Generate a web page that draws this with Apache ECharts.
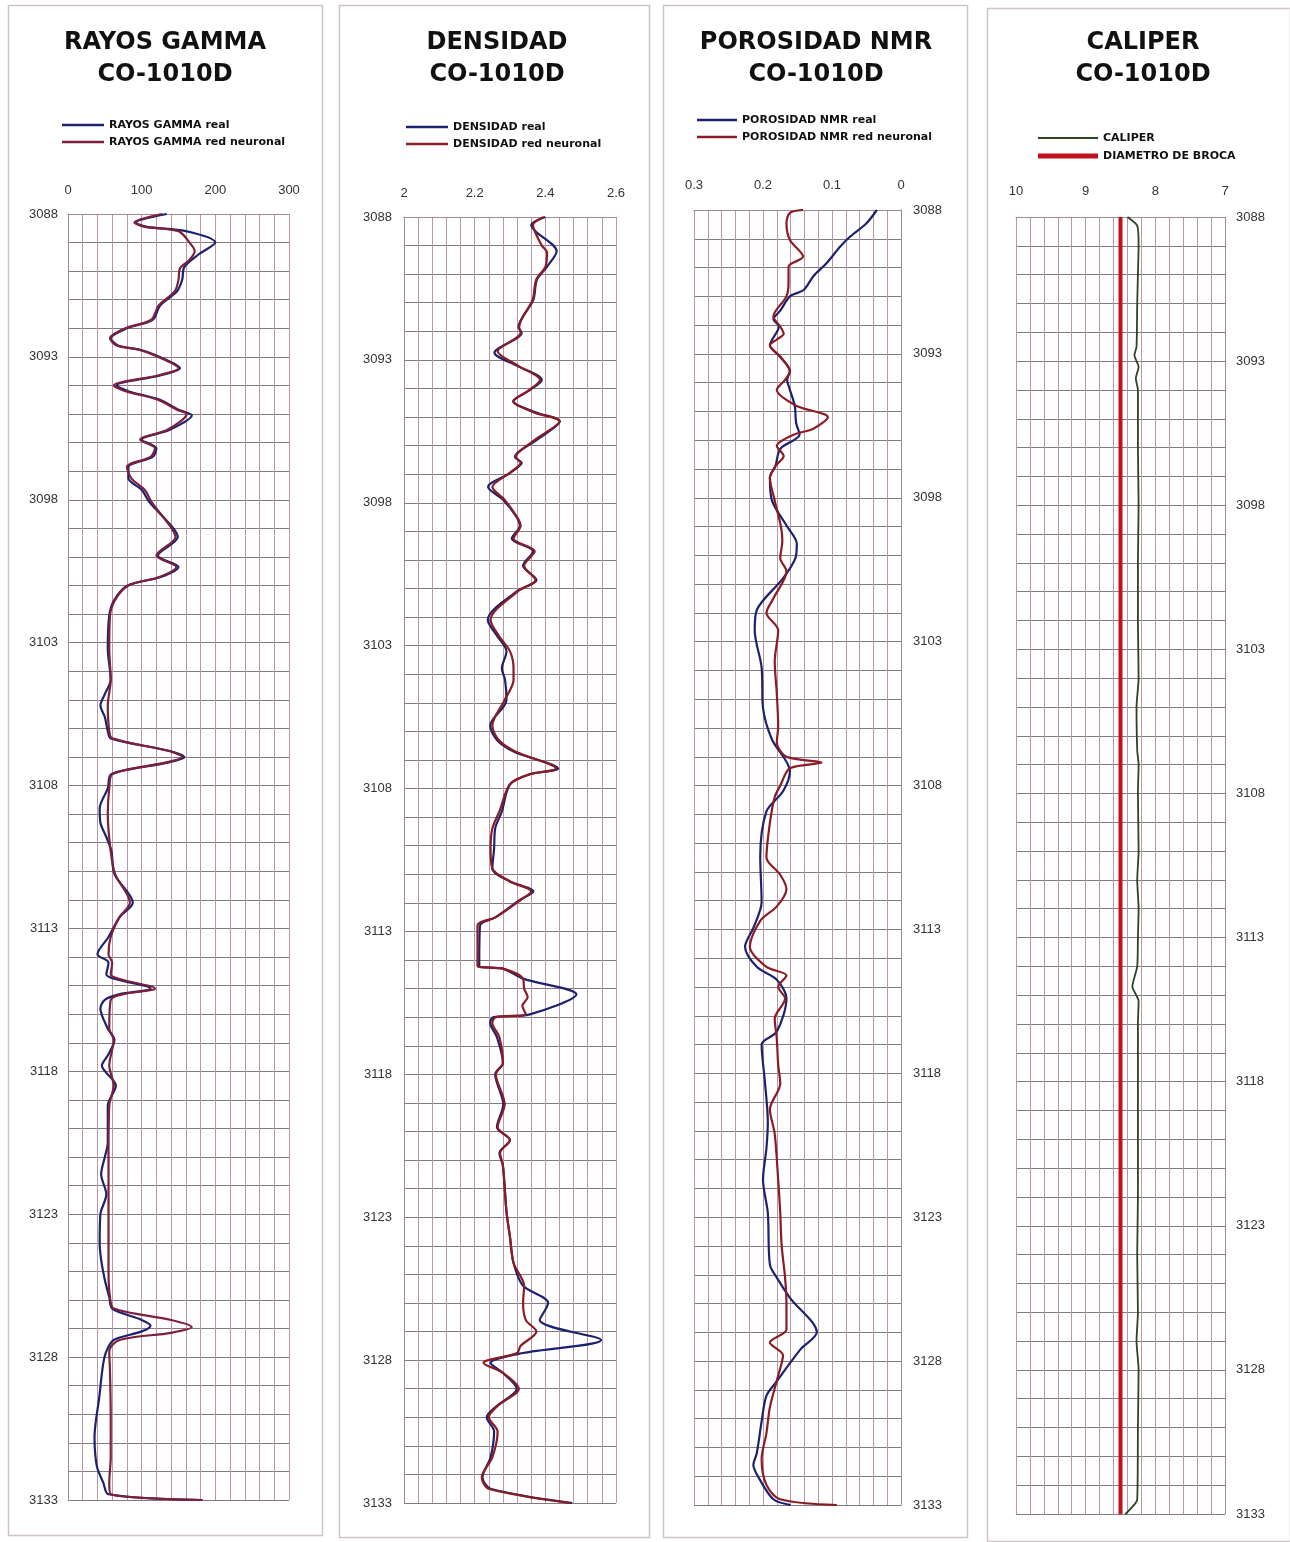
<!DOCTYPE html>
<html><head><meta charset="utf-8">
<script src="https://cdn.jsdelivr.net/npm/echarts@6/dist/echarts.min.js"></script>
<style>html,body{margin:0;padding:0;background:#fff}#c{width:1290px;height:1542px}</style>
</head><body><div id="c"></div>
<script>
// ---- data: [depth, value] pairs ----
const depthTicks = [3088,3093,3098,3103,3108,3113,3118,3123,3128,3133];
const grTicks = [0,100,200,300];
const denTicks = [2,2.2,2.4,2.6];
const porTicks = [0.3,0.2,0.1,0];
const calTicks = [10,9,8,7];

const grReal = [[3088.0,134],[3088.3,92],[3088.45,107],[3088.6,160],[3089.0,200],[3089.4,178],[3089.85,158],[3090.3,155],[3090.7,148],[3091.2,125],[3091.7,115],[3092.0,80],[3092.35,58],[3092.6,68],[3092.75,98],[3092.95,120],[3093.4,152],[3093.65,125],[3094.0,66],[3094.2,82],[3094.5,125],[3094.85,150],[3095.05,168],[3095.55,138],[3095.9,100],[3096.2,120],[3096.5,115],[3096.85,82],[3097.25,82],[3097.65,100],[3098.1,111],[3098.9,140],[3099.3,149],[3099.95,122],[3100.35,150],[3100.7,126],[3101.0,81],[3101.5,63],[3102.05,56],[3103.2,54],[3104.3,58],[3104.8,50],[3105.2,44],[3105.6,50],[3106.1,54],[3106.35,58],[3106.8,140],[3107.0,158],[3107.2,135],[3107.6,59],[3108.1,54],[3108.8,43],[3109.3,44],[3109.8,52],[3110.3,59],[3111.1,63],[3112.1,88],[3112.6,70],[3113.3,55],[3113.9,40],[3114.2,55],[3114.6,52],[3115.1,112],[3115.3,70],[3115.5,50],[3115.8,44],[3116.5,54],[3116.9,63],[3117.4,55],[3117.8,46],[3118.5,65],[3119.2,54],[3120.5,54],[3121.0,50],[3121.6,45],[3122.3,52],[3123.0,44],[3124.0,43],[3124.6,45],[3125.3,50],[3125.9,56],[3126.3,60],[3126.7,100],[3126.9,112],[3127.1,100],[3127.4,62],[3127.8,52],[3128.2,48],[3128.8,45],[3129.5,42],[3130.2,38],[3130.8,36],[3131.4,37],[3131.9,40],[3132.4,48],[3132.8,55],[3133.0,180]];
const grNeural = [[3088.0,128],[3088.3,90],[3088.45,105],[3088.6,150],[3089.0,165],[3089.3,172],[3089.6,165],[3089.9,152],[3090.3,150],[3090.7,145],[3091.2,123],[3091.7,113],[3092.0,78],[3092.35,57],[3092.6,66],[3092.75,96],[3092.95,118],[3093.4,150],[3093.65,122],[3094.0,62],[3094.2,78],[3094.5,122],[3094.85,148],[3095.0,161],[3095.55,135],[3095.9,98],[3096.2,118],[3096.5,112],[3096.85,80],[3097.25,86],[3097.65,104],[3098.1,114],[3098.9,138],[3099.3,146],[3099.95,120],[3100.35,147],[3100.7,124],[3101.0,82],[3101.5,64],[3102.05,57],[3103.2,56],[3104.3,58],[3105.2,54],[3106.1,56],[3106.35,60],[3106.8,138],[3107.0,155],[3107.2,132],[3107.6,60],[3108.1,56],[3109.0,54],[3110.3,58],[3111.1,64],[3112.1,84],[3112.6,70],[3113.3,58],[3113.9,55],[3114.2,60],[3114.6,58],[3115.1,118],[3115.3,75],[3115.5,58],[3116.5,56],[3116.9,62],[3117.8,56],[3118.5,62],[3119.2,56],[3121.0,55],[3123.0,55],[3125.0,55],[3125.9,57],[3126.3,62],[3126.7,140],[3126.95,168],[3127.15,140],[3127.4,70],[3127.8,56],[3128.5,57],[3130.0,58],[3131.5,58],[3132.4,56],[3132.8,58],[3133.0,183]];

const denReal = [[3088.0,2.40],[3088.28,2.36],[3088.5,2.372],[3089.2,2.432],[3089.75,2.404],[3090.2,2.376],[3090.9,2.366],[3091.85,2.324],[3092.05,2.333],[3092.75,2.256],[3093.2,2.319],[3093.7,2.39],[3094.05,2.357],[3094.45,2.309],[3094.85,2.376],[3095.15,2.441],[3095.8,2.376],[3096.4,2.314],[3096.6,2.333],[3096.95,2.30],[3097.45,2.238],[3097.9,2.281],[3098.5,2.319],[3098.8,2.328],[3099.25,2.305],[3099.7,2.366],[3100.2,2.337],[3100.7,2.375],[3101.1,2.319],[3102.1,2.237],[3102.65,2.263],[3103.2,2.29],[3103.8,2.277],[3104.2,2.286],[3104.9,2.29],[3105.8,2.244],[3106.3,2.263],[3106.7,2.31],[3107.3,2.436],[3107.5,2.356],[3107.85,2.30],[3108.8,2.277],[3109.4,2.258],[3110.1,2.255],[3110.8,2.25],[3111.25,2.30],[3111.6,2.366],[3111.9,2.328],[3112.5,2.26],[3112.8,2.215],[3114.2,2.213],[3114.3,2.28],[3114.65,2.337],[3115.2,2.488],[3115.9,2.356],[3116.0,2.253],[3116.2,2.244],[3116.7,2.263],[3117.6,2.28],[3118.0,2.258],[3119.05,2.281],[3119.85,2.263],[3120.3,2.30],[3120.75,2.27],[3121.2,2.28],[3122.8,2.29],[3123.7,2.30],[3124.6,2.31],[3125.4,2.337],[3126.0,2.408],[3126.6,2.384],[3127.3,2.558],[3127.75,2.337],[3128.1,2.245],[3128.45,2.28],[3129.0,2.319],[3129.6,2.263],[3130.0,2.234],[3130.5,2.255],[3131.4,2.245],[3132.1,2.222],[3132.5,2.245],[3133.0,2.476]];
const denNeural = [[3088.0,2.395],[3088.28,2.365],[3088.5,2.37],[3089.0,2.39],[3089.25,2.405],[3089.75,2.40],[3090.2,2.374],[3090.9,2.364],[3091.85,2.326],[3092.05,2.33],[3092.7,2.265],[3093.2,2.322],[3093.7,2.385],[3094.05,2.355],[3094.45,2.31],[3094.85,2.37],[3095.15,2.44],[3095.8,2.37],[3096.4,2.316],[3096.6,2.33],[3096.95,2.30],[3097.45,2.25],[3097.9,2.285],[3098.5,2.32],[3098.8,2.33],[3099.25,2.31],[3099.7,2.37],[3100.2,2.34],[3100.7,2.372],[3101.1,2.322],[3102.1,2.245],[3102.65,2.268],[3103.2,2.30],[3103.8,2.31],[3104.2,2.31],[3104.9,2.285],[3105.8,2.25],[3106.3,2.268],[3106.7,2.315],[3107.3,2.43],[3107.5,2.356],[3107.85,2.30],[3108.8,2.27],[3109.4,2.25],[3110.1,2.245],[3110.8,2.25],[3111.25,2.30],[3111.6,2.36],[3111.9,2.33],[3112.5,2.26],[3112.8,2.208],[3114.2,2.208],[3114.3,2.28],[3114.65,2.337],[3115.0,2.34],[3115.3,2.35],[3115.6,2.335],[3115.9,2.345],[3116.0,2.26],[3116.2,2.25],[3116.7,2.27],[3117.6,2.28],[3118.0,2.26],[3119.05,2.285],[3119.85,2.265],[3120.3,2.30],[3120.75,2.272],[3121.2,2.28],[3122.8,2.29],[3123.7,2.30],[3124.6,2.31],[3125.4,2.34],[3126.0,2.337],[3126.6,2.345],[3127.0,2.375],[3127.5,2.33],[3127.75,2.32],[3128.1,2.225],[3128.45,2.28],[3129.0,2.325],[3129.6,2.265],[3130.0,2.24],[3130.5,2.265],[3131.4,2.25],[3132.1,2.22],[3132.5,2.24],[3133.0,2.47]];

const porReal = [[3088.0,0.035],[3088.46,0.05],[3088.93,0.074],[3089.27,0.088],[3089.85,0.108],[3090.3,0.127],[3090.78,0.141],[3091.0,0.161],[3091.5,0.175],[3091.8,0.185],[3092.05,0.177],[3092.7,0.19],[3093.1,0.175],[3093.6,0.161],[3093.9,0.165],[3094.25,0.161],[3094.8,0.154],[3095.4,0.152],[3095.8,0.147],[3096.3,0.175],[3096.9,0.182],[3097.3,0.19],[3098.1,0.187],[3099.0,0.165],[3099.6,0.151],[3100.1,0.153],[3100.8,0.171],[3101.9,0.209],[3102.6,0.212],[3103.9,0.202],[3105.3,0.20],[3106.4,0.187],[3107.5,0.161],[3108.2,0.171],[3108.9,0.195],[3110.5,0.204],[3112.05,0.202],[3112.95,0.214],[3113.6,0.226],[3114.3,0.209],[3114.75,0.18],[3115.4,0.166],[3116.55,0.18],[3117.0,0.202],[3118.35,0.197],[3119.7,0.193],[3120.6,0.195],[3121.7,0.20],[3122.85,0.193],[3124.65,0.19],[3125.1,0.18],[3125.8,0.161],[3127.0,0.122],[3127.6,0.146],[3128.7,0.18],[3129.2,0.195],[3130.1,0.202],[3131.2,0.209],[3131.6,0.214],[3132.1,0.205],[3132.8,0.185],[3133.0,0.16]];
const porNeural = [[3088.0,0.142],[3088.1,0.161],[3088.46,0.166],[3089.04,0.161],[3089.62,0.142],[3089.97,0.163],[3090.5,0.163],[3091.0,0.166],[3091.7,0.185],[3092.05,0.175],[3092.3,0.17],[3092.5,0.18],[3092.7,0.19],[3093.1,0.175],[3093.6,0.161],[3093.9,0.168],[3094.25,0.18],[3094.8,0.152],[3095.2,0.106],[3095.6,0.127],[3095.8,0.155],[3096.2,0.18],[3096.55,0.17],[3096.9,0.182],[3097.3,0.19],[3098.1,0.183],[3099.0,0.174],[3099.5,0.172],[3100.1,0.175],[3100.55,0.166],[3101.5,0.185],[3102.0,0.195],[3102.6,0.178],[3103.7,0.183],[3104.8,0.18],[3105.96,0.178],[3106.5,0.18],[3107.0,0.166],[3107.2,0.115],[3107.4,0.161],[3108.0,0.175],[3108.4,0.183],[3109.3,0.19],[3110.5,0.195],[3111.1,0.175],[3111.6,0.166],[3112.2,0.18],[3112.7,0.204],[3113.6,0.219],[3114.3,0.195],[3114.6,0.166],[3115.0,0.178],[3115.4,0.168],[3116.1,0.183],[3116.8,0.18],[3117.7,0.178],[3118.35,0.175],[3119.25,0.19],[3120.1,0.183],[3121.7,0.178],[3122.85,0.175],[3123.98,0.173],[3125.1,0.168],[3126.0,0.166],[3126.9,0.166],[3127.35,0.19],[3127.8,0.171],[3128.5,0.178],[3129.6,0.19],[3130.5,0.195],[3131.4,0.202],[3132.3,0.195],[3132.8,0.175],[3133.0,0.093]];

const caliper = [[3088.0,8.40],[3088.3,8.26],[3089.0,8.24],[3090.0,8.25],[3091.0,8.26],[3092.5,8.27],[3092.8,8.30],[3093.2,8.24],[3093.6,8.28],[3094.0,8.25],[3096.0,8.25],[3098.0,8.24],[3100.0,8.25],[3102.0,8.25],[3104.0,8.24],[3105.0,8.27],[3106.5,8.26],[3107.0,8.24],[3108.0,8.25],[3110.0,8.24],[3111.0,8.26],[3112.0,8.24],[3113.0,8.25],[3114.0,8.26],[3114.7,8.33],[3115.2,8.24],[3116.0,8.25],[3120.0,8.25],[3122.0,8.25],[3124.0,8.26],[3126.0,8.25],[3127.0,8.27],[3128.0,8.24],[3130.0,8.25],[3132.5,8.26],[3133.0,8.43]];
const bitSize = [[3088,8.5],[3133,8.5]];

// ---- styling ----
const REAL = '#1c2270', NEURAL = '#8c1c24';
const vGrid = '#b996a8', hGrid = '#857a80', axisC = '#a08894';
const FONT = 'DejaVu Sans';

const grids = [
  {left:68, top:214, width:221, height:1286},
  {left:404, top:217, width:212, height:1286},
  {left:694, top:210, width:207, height:1295},
  {left:1016, top:217, width:209, height:1297}
];
function near(list, v){ return list.some(t => Math.abs(t - v) < 1e-6); }
function fmt(list){ return v => near(list, v) ? (Math.round(v*10)/10).toString() : ''; }
function xAx(i, min, max, interval, ticks, inverse, margin){
  return {type:'value', gridIndex:i, position:'top', min, max, interval, inverse,
    axisLine:{show:true, lineStyle:{color:axisC}}, axisTick:{show:false},
    axisLabel:{formatter:fmt(ticks), margin, fontSize:13, color:'#333', fontFamily:'Liberation Sans'},
    splitLine:{show:true, lineStyle:{color:vGrid, width:1}}};
}
function yAx(i, pos, margin){
  return {type:'value', gridIndex:i, position:pos, min:3088, max:3133, interval:1, inverse:true,
    axisLine:{show:true, onZero:false, lineStyle:{color:axisC}}, axisTick:{show:false},
    axisLabel:{formatter:v => near(depthTicks, v) ? String(Math.round(v)) : '', margin, fontSize:13, color:'#333', fontFamily:'Liberation Sans'},
    splitLine:{show:true, lineStyle:{color:hGrid, width:1}}};
}
function ser(name, arr, i, color, width, smooth){
  return {name, type:'line', xAxisIndex:i, yAxisIndex:i, data:arr.map(p => [p[1], p[0]]),
    showSymbol:false, symbol:'none', smooth: smooth, lineStyle:{color, width}, itemStyle:{color}, z:3, animation:false};
}
function legend(left, top, names, w, h){
  return {left, top, padding:0, orient:'vertical', itemWidth:w, itemHeight:h, itemGap:5, icon:'rect', selectedMode:false,
    data:names, textStyle:{fontSize:11, fontWeight:'bold', fontFamily:FONT, color:'#111', lineHeight:12}};
}
function title(text, x){
  return {text, left:x, top:27, padding:0, textAlign:'center',
    textStyle:{fontSize:24, fontWeight:'bold', fontFamily:FONT, color:'#111', lineHeight:32}};
}

const option = {
  backgroundColor:'#fff',
  animation:false,
  title:[title('RAYOS GAMMA\nCO-1010D',165), title('DENSIDAD\nCO-1010D',497), title('POROSIDAD NMR\nCO-1010D',816), title('CALIPER\nCO-1010D',1143)],
  legend:[
    legend(62,119,['RAYOS GAMMA real','RAYOS GAMMA red neuronal'],42,2.5),
    legend(406,121,['DENSIDAD real','DENSIDAD red neuronal'],42,2.5),
    legend(697,114,['POROSIDAD NMR real','POROSIDAD NMR red neuronal'],40,2.5),
    legend(1038,132,['CALIPER'],60,2),
    legend(1038,150,['DIAMETRO DE BROCA'],60,5)
  ],
  grid: grids,
  xAxis:[
    xAx(0,0,300,20,grTicks,false,17),
    xAx(1,2,2.6,0.04,denTicks,false,17),
    xAx(2,0,0.3,0.02,porTicks,true,18),
    xAx(3,7,10,0.2,calTicks,true,19)
  ],
  yAxis:[ yAx(0,'left',10), yAx(1,'left',12), yAx(2,'right',12), yAx(3,'right',11) ],
  series:[
    ser('RAYOS GAMMA real', grReal, 0, REAL, 2.2, 0.3),
    ser('RAYOS GAMMA red neuronal', grNeural, 0, '#7e1f3c', 2.2, 0.3),
    ser('DENSIDAD real', denReal, 1, REAL, 2.2, 0.3),
    ser('DENSIDAD red neuronal', denNeural, 1, NEURAL, 2.2, 0.3),
    ser('POROSIDAD NMR real', porReal, 2, REAL, 2.2, 0.3),
    ser('POROSIDAD NMR red neuronal', porNeural, 2, NEURAL, 2.2, 0.3),
    ser('CALIPER', caliper, 3, '#2c4424', 1.8, 0.2),
    ser('DIAMETRO DE BROCA', bitSize, 3, '#c0121c', 4, false)
  ],
  graphic:[
    {type:'rect', shape:{x:8.5,y:5.5,width:314,height:1530}, style:{fill:null, stroke:'#cfc3c9', lineWidth:1.5}, silent:true},
    {type:'rect', shape:{x:339.5,y:5.5,width:310,height:1532}, style:{fill:null, stroke:'#cfc3c9', lineWidth:1.5}, silent:true},
    {type:'rect', shape:{x:663.5,y:5.5,width:304,height:1532}, style:{fill:null, stroke:'#cfc3c9', lineWidth:1.5}, silent:true},
    {type:'rect', shape:{x:987.5,y:8.5,width:303,height:1533}, style:{fill:null, stroke:'#cfc3c9', lineWidth:1.5}, silent:true}
  ]
};
const chart = echarts.init(document.getElementById('c'), null, {renderer:'canvas'});
chart.setOption(option);
</script>
</body></html>
